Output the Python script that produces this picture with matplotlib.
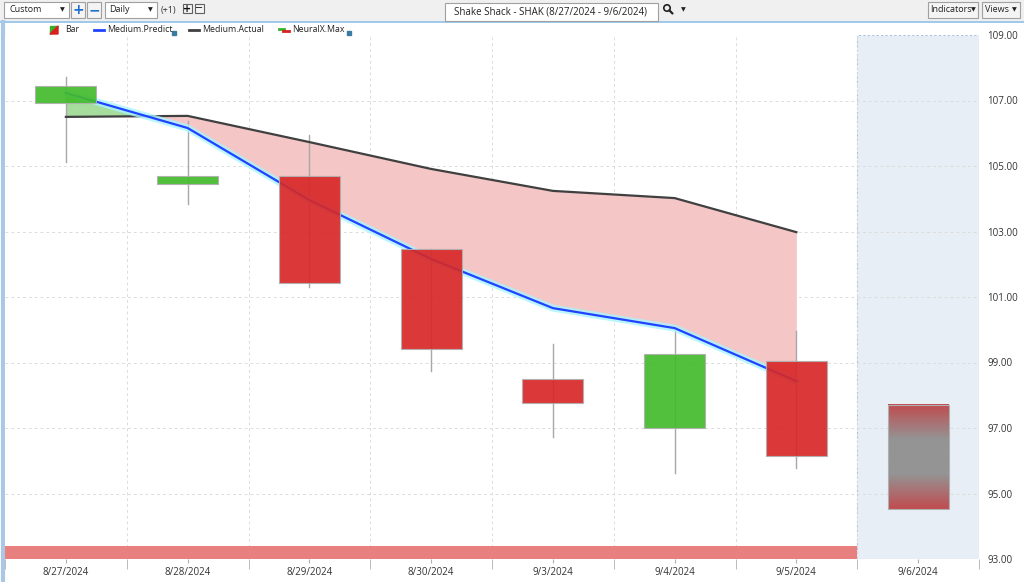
import numpy as np
import matplotlib.pyplot as plt
from matplotlib.patches import Rectangle, Circle
from matplotlib.colors import LinearSegmentedColormap

plt.rcParams['font.family'] = ['Open Sans', 'DejaVu Sans']

dates = ['8/27/2024', '8/28/2024', '8/29/2024', '8/30/2024', '9/3/2024',
         '9/4/2024', '9/5/2024', '9/6/2024']
opens = [106.92, 104.45, 104.69, 102.47, 98.50, 97.00, 99.05]
highs = [107.72, 106.37, 105.95, 102.47, 99.56, 100.08, 99.97]
lows = [105.12, 103.84, 101.30, 98.74, 96.73, 95.63, 95.78]
closes = [107.44, 104.69, 101.43, 99.41, 97.76, 99.26, 96.14]
predict = [107.23, 106.16, 103.96, 102.16, 100.66, 100.05, 98.43]
actual = [106.50, 106.53, 105.73, 104.91, 104.24, 104.02, 102.98]
neuralx_max = [1, 1, 1, 1, 1, 1, 1]
forecast_high = 97.71
forecast_low = 94.53
yticks = [93, 95, 97, 99, 101, 103, 105, 107, 109]

W, H = 1024, 582
fig = plt.figure(figsize=(W / 100, H / 100), dpi=100)
fig.patch.set_facecolor('white')

ax = fig.add_axes([5 / W, (H - 559) / H, (979 - 5) / W, (559 - 35) / H])
ax.set_facecolor('white')

x = np.arange(len(closes))
fx = len(closes)  # position of the forecast day

# forecast region
ax.axvspan(fx - 0.5, fx + 0.5, facecolor='#e8eef6', edgecolor='#a9c4e2', ls=(0, (2, 2)), lw=0.8, zorder=0)

# grid
for v in yticks[1:-1]:
    ax.axhline(v, color='#dcdcdc', lw=0.7, ls=(0, (3, 3)), zorder=0.5)
for b in np.arange(0.5, fx, 1):
    ax.axvline(b, color='#dcdcdc', lw=0.7, ls=(0, (3, 3)), zorder=0.5)

# fill between predict and actual
p = np.array(predict)
a = np.array(actual)
ax.fill_between(x, p, a, where=p >= a, interpolate=True, color='#a6dc9c', lw=0, zorder=1)
ax.fill_between(x, p, a, where=p <= a, interpolate=True, color='#f5c6c6', lw=0, zorder=1)

# lines
ax.plot(x, actual, color='#404040', lw=1.6, zorder=3)
ax.plot(x, predict, color='#a8f4ff', lw=5, alpha=0.8, solid_capstyle='round', zorder=3)
ax.plot(x, predict, color='#2043ff', lw=1.6, zorder=3.5)

# candles
for i in range(len(closes)):
    ax.plot([i, i], [lows[i], highs[i]], color='#a8a8a8', lw=1, zorder=2)
    up = closes[i] >= opens[i]
    col = '#43bb2c' if up else '#d82828'
    lo = min(opens[i], closes[i])
    hi = max(opens[i], closes[i])
    ax.add_patch(Rectangle((i - 0.25, lo), 0.5, hi - lo, facecolor=col, alpha=0.92,
                           edgecolor='#b0b0b0', lw=0.8, zorder=4))

# forecast box with gradient
cmap = LinearSegmentedColormap.from_list('fc', ['#c04c50', '#949494', '#949494', '#c04c50'])
grad = np.linspace(0, 1, 200).reshape(-1, 1)
ax.imshow(grad, extent=[fx - 0.25, fx + 0.25, forecast_low, forecast_high], cmap=cmap,
          aspect='auto', zorder=4, origin='lower')
ax.add_patch(Rectangle((fx - 0.25, forecast_low), 0.5, forecast_high - forecast_low,
                       facecolor='none', edgecolor='#b0b0b0', lw=0.8, zorder=5))

# NeuralX.Max strip
ax.bar(x, [v * 0.4 for v in neuralx_max], width=1.0, bottom=93, color='#e88080', lw=0, zorder=2)

ax.set_xlim(-0.5, fx + 0.5)
ax.set_ylim(93, 109)

# axes styling
for s in ax.spines.values():
    s.set_visible(False)
ax.set_xticks(np.arange(fx + 1))
ax.set_xticklabels(dates, fontsize=7, color='#333333')
ax.set_xticks(np.arange(-0.5, fx + 1, 1), minor=True)
ax.tick_params(axis='x', which='major', length=3, color='#b0b0b0', pad=3)
ax.tick_params(axis='x', which='minor', length=7, color='#b0b0b0')
ax.yaxis.tick_right()
ax.set_yticks(yticks)
ax.set_yticklabels([f'{v:.2f}' for v in yticks], fontsize=7, color='#333333')
ax.tick_params(axis='y', length=0, pad=6)

# UI chrome underlay
ui = fig.add_axes([0, 0, 1, 1], zorder=-1)
ui.set_xlim(0, W)
ui.set_ylim(H, 0)
ui.axis('off')
ui.add_patch(Rectangle((0, 0), W, 21, facecolor='#f0f0f0', edgecolor='none'))
ui.plot([0, W], [21.5, 21.5], color='#8cc0e8', lw=1.2)
ui.plot([3, 3], [22, H], color='#a9c8e6', lw=3)

top = fig.add_axes([0, 0, 1, 1], zorder=10)
top.set_xlim(0, W)
top.set_ylim(H, 0)
top.axis('off')
top.patch.set_alpha(0)


def box(x0, y0, w, h, fc='white', ec='#a0a0a0'):
    top.add_patch(Rectangle((x0, y0), w, h, facecolor=fc, edgecolor=ec, lw=0.8))


arrow_kw = dict(fontsize=4.5, va='center', ha='center', color='#222222', family='DejaVu Sans')
box(4, 2, 65, 16)
top.text(9, 10, 'Custom', fontsize=6.5, va='center', color='#222222')
top.text(62, 10, '▼', **arrow_kw)
box(71, 2, 14, 16, fc='#f4f4f4')
top.text(78, 10, '+', fontsize=10, va='center', ha='center', color='#1e6fd0', weight='bold', family='DejaVu Sans')
box(87, 2, 14, 16, fc='#f4f4f4')
top.text(94, 10, '−', fontsize=10, va='center', ha='center', color='#1e6fd0', weight='bold', family='DejaVu Sans')
box(105, 2, 52, 16)
top.text(109, 10, 'Daily', fontsize=6.5, va='center', color='#222222')
top.text(150, 10, '▼', **arrow_kw)
top.text(161, 10, '(+1)', fontsize=6.5, va='center', color='#333333')
box(183, 4, 9, 9, fc='#f4f4f4', ec='#606060')
top.text(187.5, 8.5, '+', fontsize=7, va='center', ha='center', color='#111111', weight='bold', family='DejaVu Sans')
box(195, 4, 9, 9, fc='#f4f4f4', ec='#606060')
top.text(199.5, 8.5, '−', fontsize=7, va='center', ha='center', color='#111111', family='DejaVu Sans')
box(445, 3, 213, 18)
top.text(551, 12, 'Shake Shack - SHAK (8/27/2024 - 9/6/2024)', fontsize=7, va='center', ha='center', color='#222222')
# magnifier icon
top.add_patch(Circle((667, 8), 3.2, facecolor='none', edgecolor='#222222', lw=1.2))
top.plot([669.3, 672.5], [10.3, 13.5], color='#222222', lw=1.6, solid_capstyle='round')
top.text(683, 10, '▼', **arrow_kw)
box(928, 2, 50, 16, fc='#f4f4f4')
top.text(951, 10, 'Indicators', fontsize=6.5, va='center', ha='center', color='#222222')
top.text(973, 10, '▼', **arrow_kw)
box(982, 2, 38, 16, fc='#f4f4f4')
top.text(997, 10, 'Views', fontsize=6.5, va='center', ha='center', color='#222222')
top.text(1014, 10, '▼', **arrow_kw)

# legend row
ly = 30
top.add_patch(plt.Polygon([[50, ly + 4], [50, ly - 4], [58, ly - 4]], color='#3ab02a'))
top.add_patch(plt.Polygon([[50, ly + 4], [58, ly - 4], [58, ly + 4]], color='#d82020'))
top.text(65, ly, 'Bar', fontsize=6.3, va='center', color='#222222')
top.plot([94, 104], [ly, ly], color='#2043ff', lw=2)
top.text(107, ly, 'Medium.Predict', fontsize=6.3, va='center', color='#222222')
top.plot([173.5], [ly + 3], 's', ms=2.2, color='#3a7ca0')
top.plot([189, 199], [ly, ly], color='#404040', lw=2)
top.text(202, ly, 'Medium.Actual', fontsize=6.3, va='center', color='#222222')
top.plot([279, 284], [ly - 1.5, ly - 1.5], color='#3ab02a', lw=2)
top.plot([283, 289], [ly + 0.5, ly + 0.5], color='#d82020', lw=2)
top.text(292, ly, 'NeuralX.Max', fontsize=6.3, va='center', color='#222222')
top.plot([348.5], [ly + 3], 's', ms=2.2, color='#3a7ca0')

fig.savefig('out.png', dpi=100)
